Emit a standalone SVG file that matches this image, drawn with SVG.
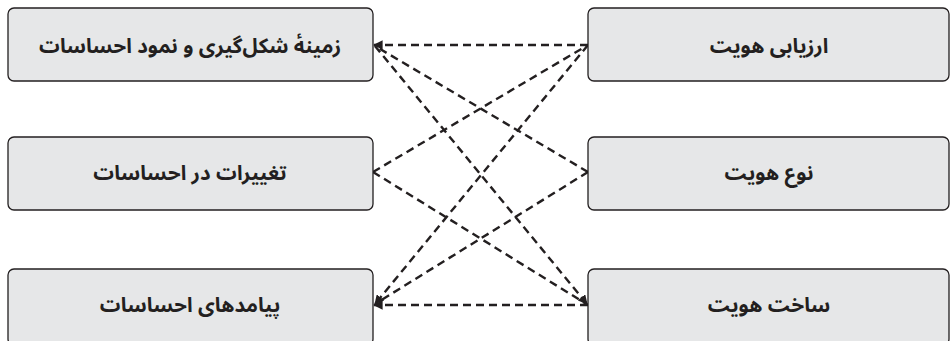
<svg xmlns="http://www.w3.org/2000/svg" width="950" height="341" viewBox="0 0 950 341">
<defs>
<style>
.box{fill:#e6e7e8;stroke:#231f20;stroke-width:1.3}
.lbl{font-family:"Noto Sans Arabic","DejaVu Sans","Noto Sans",sans-serif;font-weight:bold;font-size:20.5px;fill:#231f20;text-anchor:middle}
.ln{fill:none;stroke:#231f20;stroke-width:2.4;stroke-dasharray:8 5}
</style>
<marker id="ah" viewBox="0 0 10 10" refX="9" refY="5" markerWidth="4" markerHeight="4" orient="auto" markerUnits="strokeWidth">
<path d="M0,0 L10,5 L0,10 z" fill="#231f20"/>
</marker>
</defs>
<g id="connectors">
<line class="ln" x1="588" y1="45" x2="374" y2="45" marker-end="url(#ah)"/>
<line class="ln" x1="588" y1="172" x2="375" y2="46"/>
<line class="ln" x1="375" y1="46" x2="587" y2="304" marker-end="url(#ah)"/>
<line class="ln" x1="373" y1="172" x2="588" y2="45"/>
<line class="ln" x1="373" y1="172" x2="588" y2="305"/>
<line class="ln" x1="588" y1="45" x2="375" y2="304" marker-end="url(#ah)"/>
<line class="ln" x1="588" y1="172" x2="375" y2="304"/>
<line class="ln" x1="588" y1="305" x2="374" y2="305" marker-end="url(#ah)"/>
</g>
<g id="n1"><rect class="box" x="8" y="8" width="365" height="73" rx="6"/><text class="lbl" x="190" y="53">زمینهٔ شکل‌گیری و نمود احساسات</text></g>
<g id="n2"><rect class="box" x="8" y="137" width="365" height="73" rx="6"/><text class="lbl" x="190" y="180">تغییرات در احساسات</text></g>
<g id="n3"><rect class="box" x="8" y="269" width="365" height="76" rx="6"/><text class="lbl" x="190" y="312">پیامدهای احساسات</text></g>
<g id="n4"><rect class="box" x="588" y="8" width="361" height="73" rx="6"/><text class="lbl" x="769" y="53">ارزیابی هویت</text></g>
<g id="n5"><rect class="box" x="588" y="137" width="361" height="73" rx="6"/><text class="lbl" x="769" y="180">نوع هویت</text></g>
<g id="n6"><rect class="box" x="588" y="269" width="361" height="76" rx="6"/><text class="lbl" x="769" y="312">ساخت هویت</text></g>
</svg>
